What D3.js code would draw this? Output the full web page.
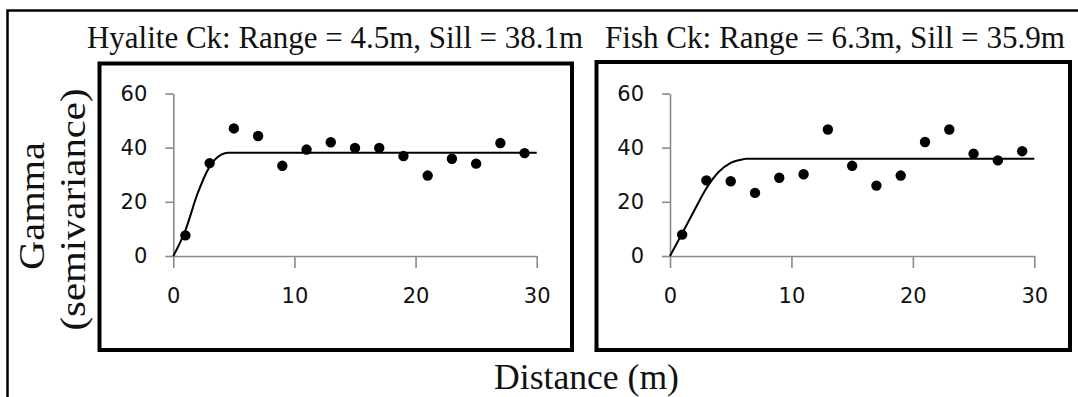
<!DOCTYPE html>
<html><head><meta charset="utf-8">
<script src="https://cdn.jsdelivr.net/npm/d3@7"></script>
<style>
html,body{margin:0;padding:0;background:#fff;}
svg{display:block;}
</style></head>
<body>
<script>
// ---- data ----
const lagDistances = [1,3,5,7,9,11,13,15,17,19,21,23,25,27,29];
const hyaliteGamma = [7.6,34.3,47.1,44.3,33.3,39.3,42.0,39.9,39.9,36.9,29.7,35.9,34.1,41.7,38.0];
const fishGamma    = [7.9,27.9,27.6,23.3,28.9,30.2,46.7,33.3,26.0,29.7,42.1,46.7,37.8,35.3,38.7];
const hyaliteModelX = [0,1,2,3,4,4.5,30];
const hyaliteModelY = [0,9.5,23,33,37.5,38.1,38.1];
const fishModelX = [0,1,2,3,4,5,6,6.3,30];
const fishModelY = [0,8.3,16.8,25,31,34.4,35.7,35.9,35.9];
const xTicks = [0,10,20,30];
const yTicks = [0,20,40,60];
const titles = ["Hyalite Ck: Range = 4.5m, Sill = 38.1m", "Fish Ck: Range = 6.3m, Sill = 35.9m"];
const yLabel1 = "Gamma";
const yLabel2 = "(semivariance)";
const xLabel = "Distance (m)";

const W = 1078, H = 397;
const svg = d3.select("body").append("svg").attr("width", W).attr("height", H);

// outer frame
svg.append("path").attr("d", `M7.5,${H+5} V10.5 H${W+5}`)
  .attr("fill","none").attr("stroke","#000").attr("stroke-width",2.5);

const panels = [
  {title: titles[0], tx: 87, tw: 496, box:[99.5,63.5,572,350], x0:173.3, x1:536.7, mx: hyaliteModelX, my: hyaliteModelY, ys: hyaliteGamma},
  {title: titles[1], tx: 605, tw: 460, box:[596.5,62,1070,350], x0:670, x1:1034.3, mx: fishModelX, my: fishModelY, ys: fishGamma}
];

panels.forEach(p => {
  // title
  svg.append("text").attr("x", p.tx).attr("y", 48)
    .attr("font-family","'Liberation Serif','Times New Roman',serif")
    .attr("font-size",31).attr("fill","#111")
    .attr("textLength", p.tw).attr("lengthAdjust","spacingAndGlyphs")
    .text(p.title);
  // box
  const [bx0,by0,bx1,by1] = p.box;
  svg.append("rect").attr("x",bx0).attr("y",by0).attr("width",bx1-bx0).attr("height",by1-by0)
    .attr("fill","#fff").attr("stroke","#000").attr("stroke-width",4);

  const x = d3.scaleLinear().domain([0,30]).range([p.x0,p.x1]);
  const y = d3.scaleLinear().domain([0,60]).range([256,93.5]);

  const gx = svg.append("g").attr("transform",`translate(0,${y(0)})`)
    .call(d3.axisBottom(x).tickValues(xTicks).tickSize(12).tickSizeOuter(0).tickPadding(20));
  const gy = svg.append("g").attr("transform",`translate(${x(0)},0)`)
    .call(d3.axisLeft(y).tickValues(yTicks).tickSize(8).tickSizeOuter(0).tickPadding(18));
  [gx,gy].forEach(g => {
    g.select(".domain").attr("stroke","#8a8a8a").attr("stroke-width",1.6);
    g.selectAll(".tick line").attr("stroke","#8a8a8a").attr("stroke-width",1.6);
    g.selectAll(".tick text").attr("font-family","'DejaVu Sans',sans-serif")
      .attr("font-size",21).attr("fill","#111");
  });

  // model curve
  const line = d3.line().x(d=>x(d[0])).y(d=>y(d[1])).curve(d3.curveMonotoneX);
  svg.append("path").datum(d3.zip(p.mx,p.my)).attr("d",line)
    .attr("fill","none").attr("stroke","#000").attr("stroke-width",2);

  // points
  svg.append("g").selectAll("circle").data(d3.zip(lagDistances,p.ys)).join("circle")
    .attr("cx",d=>x(d[0])).attr("cy",d=>y(d[1])).attr("r",5.2).attr("fill","#000");
});

// y label
const serif = "'Liberation Serif','Times New Roman',serif";
svg.append("text").attr("transform","translate(44,206) rotate(-90)")
  .attr("text-anchor","middle").attr("font-family",serif).attr("font-size",35).attr("fill","#111")
  .attr("textLength",128).attr("lengthAdjust","spacingAndGlyphs").text(yLabel1);
svg.append("text").attr("transform","translate(85,209.5) rotate(-90)")
  .attr("text-anchor","middle").attr("font-family",serif).attr("font-size",35).attr("fill","#111")
  .attr("textLength",242).attr("lengthAdjust","spacingAndGlyphs").text(yLabel2);
// x label
svg.append("text").attr("x",494).attr("y",389)
  .attr("font-family",serif).attr("font-size",36).attr("fill","#111")
  .attr("textLength",185).attr("lengthAdjust","spacingAndGlyphs").text(xLabel);
</script>
</body></html>
